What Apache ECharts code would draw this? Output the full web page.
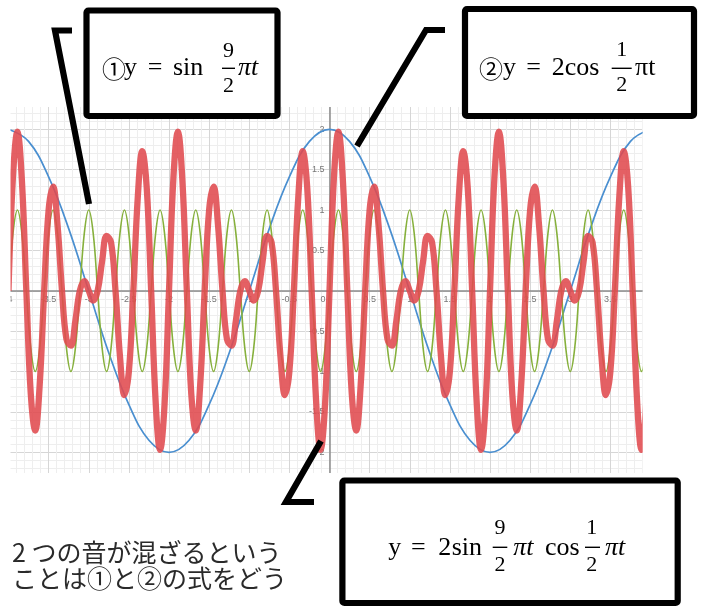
<!DOCTYPE html>
<html><head><meta charset="utf-8">
<script src="https://cdn.jsdelivr.net/npm/echarts@6/dist/echarts.min.js"></script>
<style>html,body{margin:0;padding:0;background:#fff}#c{width:705px;height:607px}</style>
</head><body><div id="c"></div>
<script>
// sample grid of the plotted curves (t values)
const curveStart = -4;
const curveStep = 1 / 18;
const cosStep = 0.25;

// ① y = sin(9/2 πt)  (green), read at t = -4, -4+1/18, ...
const sinValues = [
 0,0.71,1,0.71,0,-0.71,-1,-0.71, 0,0.71,1,0.71,0,-0.71,-1,-0.71,
 0,0.71,1,0.71,0,-0.71,-1,-0.71, 0,0.71,1,0.71,0,-0.71,-1,-0.71,
 0,0.71,1,0.71,0,-0.71,-1,-0.71, 0,0.71,1,0.71,0,-0.71,-1,-0.71,
 0,0.71,1,0.71,0,-0.71,-1,-0.71, 0,0.71,1,0.71,0,-0.71,-1,-0.71,
 0,0.71,1,0.71,0,-0.71,-1,-0.71, 0,0.71,1,0.71,0,-0.71,-1,-0.71,
 0,0.71,1,0.71,0,-0.71,-1,-0.71, 0,0.71,1,0.71,0,-0.71,-1,-0.71,
 0,0.71,1,0.71,0,-0.71,-1,-0.71, 0,0.71,1,0.71,0,-0.71,-1,-0.71,
 0,0.71,1,0.71,0,-0.71,-1,-0.71, 0,0.71,1,0.71,0,-0.71,-1,-0.71,
 0,0.71,1,0.71,0,-0.71,-1,-0.71, 0,0.71,1,0.71,0,-0.71,-1,-0.71,
 0
];

// y = 2 sin(9/2 πt) cos(1/2 πt)  (red), same t grid
const productValues = [
 0,1.41,1.97,1.37,0,-1.28,-1.73,-1.16,0,1.00,1.29,0.81,0,-0.60,-0.68,-0.37,0,0.12,0,-0.12,0,0.37,0.68,0.60,0,-0.81,-1.29,-1.00,0,1.16,1.73,1.28,0,-1.37,-1.97,-1.41,
 0,1.41,1.97,1.37,0,-1.28,-1.73,-1.16,0,1.00,1.29,0.81,0,-0.60,-0.68,-0.37,0,0.12,0,-0.12,0,0.37,0.68,0.60,0,-0.81,-1.29,-1.00,0,1.16,1.73,1.28,0,-1.37,-1.97,-1.41,
 0,1.41,1.97,1.37,0,-1.28,-1.73,-1.16,0,1.00,1.29,0.81,0,-0.60,-0.68,-0.37,0,0.12,0,-0.12,0,0.37,0.68,0.60,0,-0.81,-1.29,-1.00,0,1.16,1.73,1.28,0,-1.37,-1.97,-1.41,
 0,1.41,1.97,1.37,0,-1.28,-1.73,-1.16,0,1.00,1.29,0.81,0,-0.60,-0.68,-0.37,0,0.12,0,-0.12,0,0.37,0.68,0.60,0,-0.81,-1.29,-1.00,0,1.16,1.73,1.28,0,-1.37,-1.97,-1.41,
 0
];

// ② y = 2cos(1/2 πt)  (blue), read at t = -4, -3.75, ...
const cosValues = [
 2,1.85,1.41,0.77,0,-0.77,-1.41,-1.85,-2,-1.85,-1.41,-0.77,0,0.77,1.41,1.85,
 2,1.85,1.41,0.77,0,-0.77,-1.41,-1.85,-2,-1.85,-1.41,-0.77,0,0.77,1.41,1.85,
 2
];

const captionLines = ['2 つの音が混ざるという', 'ことは①と②の式をどう'];

const xMin = -4, xMax = 4, yMin = -2.5, yMax = 2.5, tickStep = 0.5;

function toPoints(vals, start, step) { return vals.map((v, i) => [start + i * step, v]); }

const W = 705, H = 607;
const gridBox = {left: 8.5, right: 54.5, top: 88.9, bottom: 114.3};
const plotW = W - gridBox.left - gridBox.right;
const plotH = H - gridBox.top - gridBox.bottom;
// shift the axes from the grid edges to the zero lines (math-style crossing axes)
const xAxisOffset = -((0 - yMin) / (yMax - yMin)) * plotH;
const yAxisOffset = -((0 - xMin) / (xMax - xMin)) * plotW;

const chart = echarts.init(document.getElementById('c'), null, {renderer: 'canvas'});

const serif = '"Liberation Serif", "Times New Roman", serif';
const cjk = '"Noto Sans CJK JP", sans-serif';
function T(text, x, y, o) {
  o = o || {};
  return {type: 'text', z: 120, silent: true, style: {
    text: text, x: x, y: y, fill: '#000',
    fontSize: o.size || 26, fontFamily: o.family || serif, fontStyle: o.italic ? 'italic' : 'normal',
    align: o.align || 'left', verticalAlign: 'middle'
  }};
}
function bar(x1, x2, y) {
  return {type: 'line', z: 120, silent: true, shape: {x1: x1, y1: y, x2: x2, y2: y}, style: {stroke: '#000', lineWidth: 1.4}};
}
function box(x, y, w, h) {
  return {type: 'rect', z: 110, silent: true, shape: {x: x, y: y, width: w, height: h, r: 2},
    style: {fill: '#fff', stroke: '#000', lineWidth: 6.2}};
}
function lead(pts) {
  return {type: 'polyline', z: 110, silent: true, shape: {points: pts},
    style: {stroke: '#000', lineWidth: 6.2, fill: null, lineJoin: 'miter', lineCap: 'butt'}};
}
function cover(x, y, w, h) {
  return {type: 'rect', z: 90, silent: true, shape: {x: x, y: y, width: w, height: h}, style: {fill: '#fff'}};
}

const axisLabelStyle = {fontSize: 9, color: '#777', fontFamily: 'Arial, "Liberation Sans", sans-serif'};

chart.setOption({
  animation: false,
  backgroundColor: '#fff',
  grid: Object.assign({containLabel: false, outerBoundsMode: 'none'}, gridBox),
  xAxis: {
    type: 'value', min: xMin, max: xMax, interval: tickStep, position: 'bottom', offset: xAxisOffset,
    axisLine: {onZero: false, lineStyle: {color: '#8c8c8c', width: 1.5}},
    axisTick: {show: false},
    axisLabel: Object.assign({}, axisLabelStyle, {margin: 4, hideOverlap: false,
      formatter: v => v === 0 ? '{o|0}' : String(v),
      rich: {o: Object.assign({}, axisLabelStyle, {padding: [0, 13, 0, 0]})}}),
    splitLine: {show: true, lineStyle: {color: '#d6d6d6', width: 1}},
    minorTick: {show: false, splitNumber: 5},
    minorSplitLine: {show: true, lineStyle: {color: '#eeeeee', width: 1}}
  },
  yAxis: {
    type: 'value', min: yMin, max: yMax, interval: tickStep, position: 'left', offset: yAxisOffset,
    axisLine: {onZero: false, lineStyle: {color: '#8c8c8c', width: 1.5}},
    axisTick: {show: false},
    axisLabel: Object.assign({}, axisLabelStyle, {margin: 5, hideOverlap: false, formatter: v => v === 0 ? '' : String(v)}),
    splitLine: {show: true, lineStyle: {color: '#d6d6d6', width: 1}},
    minorTick: {show: false, splitNumber: 5},
    minorSplitLine: {show: true, lineStyle: {color: '#eeeeee', width: 1}}
  },
  series: [
    {name: 'cos', type: 'line', data: toPoints(cosValues, curveStart, cosStep), showSymbol: false, smooth: 0.4,
     lineStyle: {color: '#4a8fd0', width: 1.7}, z: 3, silent: true},
    {name: 'sin', type: 'line', data: toPoints(sinValues, curveStart, curveStep), showSymbol: false, smooth: 0.4,
     lineStyle: {color: '#86b03c', width: 1.6}, z: 3, silent: true},
    {name: 'product', type: 'line', data: toPoints(productValues, curveStart, curveStep), showSymbol: false, smooth: 0.4,
     lineStyle: {color: '#e04a4f', width: 6.3, opacity: 0.88}, z: 4, silent: true}
  ],
  graphic: {elements: [
    cover(0, 0, 705, 107), cover(0, 473, 705, 134), cover(0, 0, 10.5, 607), cover(642.7, 0, 62.3, 607),
    lead([[72, 30.5], [55, 30.5], [89, 204]]),
    lead([[445, 30], [426, 30], [357, 146]]),
    lead([[321, 441], [286, 502], [314, 502]]),
    box(86.5, 10.5, 191, 105.5),
    box(465, 9, 229, 107),
    box(342.4, 480.5, 335.3, 122.5),
    // box 1
    T('①', 114, 69, {size: 24, family: cjk, align: 'center'}),
    T('y', 124, 68.3), T('=', 155, 68.3, {align: 'center'}), T('sin', 173, 68.3),
    T('9', 228.5, 51, {size: 22, align: 'center'}), bar(222, 235, 68.3), T('2', 228.5, 86.5, {size: 22, align: 'center'}),
    T('πt', 238, 68.3, {italic: true}),
    // box 2
    T('②', 491, 69, {size: 24, family: cjk, align: 'center'}),
    T('y', 503, 68.3), T('=', 533.5, 68.3, {align: 'center'}), T('2cos', 551.7, 68.3),
    T('1', 621.7, 50, {size: 22, align: 'center'}), bar(611.7, 631.7, 68.3), T('2', 621.7, 85, {size: 22, align: 'center'}),
    T('πt', 635, 68.3),
    // box 3
    T('y', 388.3, 548.5), T('=', 418.3, 548.5, {align: 'center'}), T('2', 438.3, 548.5), T('sin', 451.7, 548.5),
    T('9', 500, 528.3, {size: 22, align: 'center'}), bar(492.7, 507.3, 547.3), T('2', 500, 565, {size: 22, align: 'center'}),
    T('πt', 513.3, 548.5, {italic: true}),
    T('cos', 545, 548.5),
    T('1', 591.7, 528.3, {size: 22, align: 'center'}), bar(585, 600, 547.3), T('2', 591.7, 565, {size: 22, align: 'center'}),
    T('πt', 605, 548.5, {italic: true}),
    // caption
    {type: 'text', z: 120, silent: true, style: {text: captionLines[0], x: 12, y: 552.5, fontSize: 25, fontFamily: cjk, fill: '#2a2a2a', verticalAlign: 'middle'}},
    {type: 'text', z: 120, silent: true, style: {text: captionLines[1], x: 12, y: 578.5, fontSize: 25, fontFamily: cjk, fill: '#2a2a2a', verticalAlign: 'middle'}}
  ]}
});
</script></body></html>
